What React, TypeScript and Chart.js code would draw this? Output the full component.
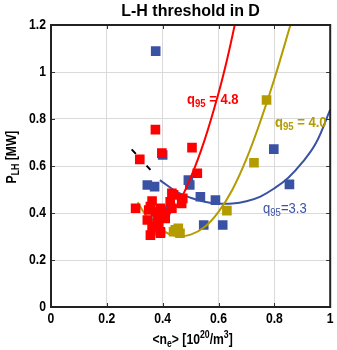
import React, { useEffect, useRef } from "react";
import { Chart, registerables } from "chart.js";

Chart.register(...registerables);

// ---- data ----
const redX = [0.374, 0.397, 0.318, 0.505, 0.524, 0.303, 0.362, 0.356, 0.392, 0.374, 0.409, 0.433, 0.427, 0.439, 0.472, 0.345, 0.38, 0.392, 0.356, 0.386, 0.409, 0.362, 0.35, 0.386, 0.468, 0.433, 0.392];
const redY = [0.755, 0.655, 0.628, 0.678, 0.569, 0.42, 0.451, 0.427, 0.42, 0.406, 0.399, 0.42, 0.448, 0.477, 0.462, 0.37, 0.356, 0.32, 0.306, 0.377, 0.377, 0.342, 0.413, 0.356, 0.441, 0.484, 0.314];

const goldX = [0.772, 0.727, 0.63, 0.445, 0.462, 0.456, 0.439, 0.368, 0.38];
const goldY = [0.881, 0.614, 0.41, 0.328, 0.314, 0.335, 0.32, 0.349, 0.328];

const blueX = [0.375, 0.4, 0.345, 0.371, 0.492, 0.497, 0.535, 0.589, 0.798, 0.854, 0.547, 0.615, 0.38, 0.41];
const blueY = [1.089, 0.647, 0.519, 0.512, 0.54, 0.519, 0.469, 0.455, 0.672, 0.522, 0.349, 0.349, 0.384, 0.41];

// fitted curves as drawn in the reference
const redFitX = [0.4, 0.45, 0.5, 0.55, 0.6, 0.63, 0.66];
const redFitY = [0.37, 0.43, 0.55, 0.71, 0.91, 1.05, 1.21];

const goldFitX = [0.31, 0.35, 0.4, 0.45, 0.5, 0.55, 0.6, 0.65, 0.7, 0.75, 0.8, 0.86];
const goldFitY = [0.445, 0.375, 0.325, 0.302, 0.308, 0.34, 0.405, 0.5, 0.63, 0.79, 0.97, 1.21];

const blueFitX = [0.39, 0.45, 0.5, 0.55, 0.6, 0.65, 0.7, 0.75, 0.8, 0.85, 0.9, 0.95, 1.0];
const blueFitY = [0.54, 0.49, 0.465, 0.448, 0.44, 0.44, 0.45, 0.47, 0.505, 0.55, 0.615, 0.7, 0.84];

const dashX = [0.289, 0.362];
const dashY = [0.671, 0.576];

const xTicks = [0, 0.2, 0.4, 0.6, 0.8, 1];
const yTicks = [0, 0.2, 0.4, 0.6, 0.8, 1, 1.2];
const xTickLabels = ["0", "0.2", "0.4", "0.6", "0.8", "1"];
const yTickLabels = ["0", "0.2", "0.4", "0.6", "0.8", "1", "1.2"];

const RED = "#ff0000";
const GOLD = "#b39b00";
const BLUE = "#3a52a3";

const FAM = "'Liberation Sans', Arial, sans-serif";
const SX = 0.87; // horizontal compression to mimic the narrow face

const pts = (xs: number[], ys: number[]) => xs.map((x, i) => ({ x, y: ys[i] }));

type Part = { t: string; size: number; dy?: number; weight?: string };

function richWidth(ctx: CanvasRenderingContext2D, parts: Part[]) {
  let w = 0;
  for (const p of parts) {
    ctx.font = `${p.weight || "bold"} ${p.size}px ${FAM}`;
    w += ctx.measureText(p.t).width * SX;
  }
  return w;
}

function drawRich(ctx: CanvasRenderingContext2D, x: number, y: number, parts: Part[], color: string, align: "left" | "center") {
  const w = richWidth(ctx, parts);
  let cx = align === "center" ? x - w / 2 : x;
  ctx.fillStyle = color;
  ctx.textBaseline = "alphabetic";
  ctx.textAlign = "left";
  for (const p of parts) {
    ctx.font = `${p.weight || "bold"} ${p.size}px ${FAM}`;
    ctx.save();
    ctx.translate(cx, y + (p.dy || 0));
    ctx.scale(SX, 1);
    ctx.fillText(p.t, 0, 0);
    ctx.restore();
    cx += ctx.measureText(p.t).width * SX;
  }
}

function drawNarrow(ctx: CanvasRenderingContext2D, t: string, x: number, y: number, align: CanvasTextAlign) {
  ctx.save();
  ctx.translate(x, y);
  ctx.scale(SX, 1);
  ctx.textAlign = align;
  ctx.textBaseline = "middle";
  ctx.fillText(t, 0, 0);
  ctx.restore();
}

const decorPlugin = {
  id: "decor",
  afterDraw(chart: any) {
    const ctx: CanvasRenderingContext2D = chart.ctx;
    const a = chart.chartArea;
    const xs = chart.scales.x;
    const ys = chart.scales.y;
    ctx.save();
    // inward ticks
    ctx.strokeStyle = "#333";
    ctx.lineWidth = 1;
    ctx.beginPath();
    for (const v of xTicks) {
      const px = Math.round(xs.getPixelForValue(v)) + 0.5;
      ctx.moveTo(px, a.top);
      ctx.lineTo(px, a.top + 4);
      ctx.moveTo(px, a.bottom);
      ctx.lineTo(px, a.bottom - 4);
    }
    for (const v of yTicks) {
      const py = Math.round(ys.getPixelForValue(v)) + 0.5;
      ctx.moveTo(a.left, py);
      ctx.lineTo(a.left + 4, py);
      ctx.moveTo(a.right, py);
      ctx.lineTo(a.right - 4, py);
    }
    ctx.stroke();
    // frame
    ctx.strokeStyle = "#222";
    ctx.lineWidth = 2;
    ctx.strokeRect(a.left, a.top, a.right - a.left, a.bottom - a.top);

    // tick labels
    ctx.fillStyle = "#000";
    ctx.font = `bold 14px ${FAM}`;
    xTicks.forEach((v, i) => drawNarrow(ctx, xTickLabels[i], xs.getPixelForValue(v), a.bottom + 12, "center"));
    yTicks.forEach((v, i) => drawNarrow(ctx, yTickLabels[i], a.left - 5, ys.getPixelForValue(v), "right"));

    // title
    ctx.fillStyle = "#000";
    ctx.font = `bold 16px ${FAM}`;
    ctx.textAlign = "center";
    ctx.textBaseline = "alphabetic";
    ctx.fillText("L-H threshold in D", (a.left + a.right) / 2, 16);

    // x axis title
    drawRich(ctx, (a.left + a.right) / 2 + 2, 344, [
      { t: "<n", size: 14 },
      { t: "e", size: 10, dy: 3 },
      { t: "> [10", size: 14 },
      { t: "20", size: 10, dy: -6 },
      { t: "/m", size: 14 },
      { t: "3", size: 10, dy: -6 },
      { t: "]", size: 14 },
    ], "#000", "center");

    // y axis title
    ctx.save();
    ctx.translate(16, 157);
    ctx.rotate(-Math.PI / 2);
    drawRich(ctx, 0, 0, [
      { t: "P", size: 14 },
      { t: "LH", size: 10, dy: 3 },
      { t: " [MW]", size: 14 },
    ], "#000", "center");
    ctx.restore();

    // curve labels
    drawRich(ctx, 187, 104, [
      { t: "q", size: 15 },
      { t: "95", size: 11, dy: 3 },
      { t: " = 4.8", size: 15 },
    ], RED, "left");
    drawRich(ctx, 275, 127, [
      { t: "q", size: 15 },
      { t: "95", size: 11, dy: 3 },
      { t: " = 4.0", size: 15 },
    ], GOLD, "left");
    drawRich(ctx, 263, 213, [
      { t: "q", size: 15, weight: "normal" },
      { t: "95", size: 11, dy: 3, weight: "normal" },
      { t: "=3.3", size: 15, weight: "normal" },
    ], BLUE, "left");
    ctx.restore();
  },
};

export default function App() {
  const ref = useRef<HTMLCanvasElement | null>(null);
  useEffect(() => {
    if (!ref.current) return;
    const sq = (color: string, data: any, order: number) => ({
      data,
      showLine: false,
      pointStyle: "rect",
      pointRadius: 6.8,
      pointBackgroundColor: color,
      pointBorderColor: color,
      pointBorderWidth: 0,
      order,
    });
    const ln = (color: string, data: any, order: number, dash: number[] = []) => ({
      data,
      showLine: true,
      pointRadius: 0,
      borderColor: color,
      borderWidth: 2,
      borderDash: dash,
      tension: 0.4,
      fill: false,
      order,
    });
    const chart = new Chart(ref.current, {
      type: "scatter",
      data: {
        datasets: [
          sq(RED, pts(redX, redY), 1) as any,
          ln(RED, pts(redFitX, redFitY), 2) as any,
          sq(GOLD, pts(goldX, goldY), 3) as any,
          ln(GOLD, pts(goldFitX, goldFitY), 4) as any,
          sq(BLUE, pts(blueX, blueY), 5) as any,
          ln(BLUE, pts(blueFitX, blueFitY), 6) as any,
          ln("#000", pts(dashX, dashY), 7, [6, 5]) as any,
        ],
      },
      options: {
        responsive: false,
        animation: false,
        devicePixelRatio: 1,
        layout: { padding: { top: 25, right: 2, left: 0, bottom: 0 } },
        plugins: { legend: { display: false }, tooltip: { enabled: false }, title: { display: false } },
        scales: {
          x: {
            type: "linear",
            min: 0,
            max: 1,
            afterFit: (s: any) => { s.height = 43; },
            afterBuildTicks: (s: any) => { s.ticks = xTicks.map((v) => ({ value: v })); },
            ticks: { display: false },
            grid: { color: "#dadada", lineWidth: 1, drawTicks: false },
            border: { display: false },
          },
          y: {
            type: "linear",
            min: 0,
            max: 1.2,
            afterFit: (s: any) => { s.width = 51; },
            afterBuildTicks: (s: any) => { s.ticks = yTicks.map((v) => ({ value: v })); },
            ticks: { display: false },
            grid: { color: "#dadada", lineWidth: 1, drawTicks: false },
            border: { display: false },
          },
        },
      } as any,
      plugins: [decorPlugin as any],
    });
    return () => chart.destroy();
  }, []);
  return (
    <div style={{ position: "fixed", left: 0, top: 0, width: 337, height: 350, background: "#fff" }}>
      <canvas ref={ref} width={337} height={350} style={{ width: 337, height: 350, display: "block" }} />
    </div>
  );
}
